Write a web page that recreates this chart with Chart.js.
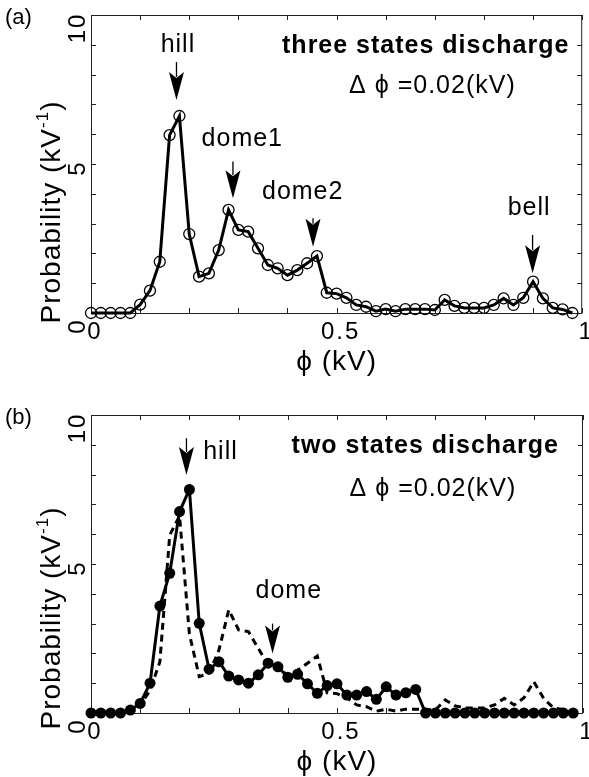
<!DOCTYPE html>
<html>
<head>
<meta charset="utf-8">
<script src="https://cdn.jsdelivr.net/npm/chart.js@4.4.0/dist/chart.umd.min.js"></script>
<style>
    html, body { margin: 0; padding: 0; background: #fff; }
    .panel { position: absolute; left: 0; width: 589px; }
    #wrapA { top: 0; height: 388px; }
    #wrapB { top: 388px; height: 389px; }
</style>
</head>
<body>
<div class="panel" id="wrapA"><canvas id="chartA" width="589" height="388"></canvas></div>
<div class="panel" id="wrapB"><canvas id="chartB" width="589" height="389"></canvas></div>
<script>
// phi (kV), bin width 0.02
var phi = [0.00, 0.02, 0.04, 0.06, 0.08, 0.10, 0.12, 0.14, 0.16, 0.18,
           0.20, 0.22, 0.24, 0.26, 0.28, 0.30, 0.32, 0.34, 0.36, 0.38,
           0.40, 0.42, 0.44, 0.46, 0.48, 0.50, 0.52, 0.54, 0.56, 0.58,
           0.60, 0.62, 0.64, 0.66, 0.68, 0.70, 0.72, 0.74, 0.76, 0.78,
           0.80, 0.82, 0.84, 0.86, 0.88, 0.90, 0.92, 0.94, 0.96, 0.98];

// (a) three states discharge, probability (kV^-1)
var threeStates = [0, 0, 0, 0, 0, 0.28, 0.75, 1.72, 5.97, 6.61,
                   2.65, 1.22, 1.33, 2.11, 3.46, 2.79, 2.73, 2.17, 1.61, 1.50,
                   1.27, 1.44, 1.67, 1.91, 0.68, 0.65, 0.51, 0.27, 0.21, 0.06,
                   0.13, 0.06, 0.13, 0.13, 0.13, 0.10, 0.44, 0.24, 0.17, 0.17,
                   0.17, 0.27, 0.49, 0.27, 0.51, 1.05, 0.49, 0.17, 0.12, 0.00];

// (b) two states discharge
var twoStates = [0, 0, 0, 0, 0.10, 0.32, 1.00, 3.59, 4.69, 6.76,
                 7.50, 3.01, 1.47, 1.72, 1.24, 1.11, 1.00, 1.28, 1.67, 1.55,
                 1.20, 1.30, 0.98, 0.66, 0.92, 0.98, 0.60, 0.60, 0.72, 0.46,
                 0.88, 0.60, 0.68, 0.79, 0, 0, 0, 0, 0, 0,
                 0, 0, 0, 0, 0, 0, 0, 0, 0, 0];

// axis ticks
var xMinorTicks = [0, 0.1, 0.2, 0.3, 0.4, 0.5, 0.6, 0.7, 0.8, 0.9, 1];
var xTickValues = [0, 0.5, 1];
var xTickLabels = ['0', '0.5', '1'];
var yMinorTicks = [0, 1, 2, 3, 4, 5, 6, 7, 8, 9, 10];
var yTickValues = [0, 5, 10];
var yTickLabels = ['0', '5', '10'];

var FONT = '"Liberation Sans", Arial, Helvetica, sans-serif';

function toPoints(xs, ys) {
    return xs.map(function(x, i) { return { x: x, y: ys[i] }; });
}

function drawArrow(ctx, x, yTop, yTip) {
    var headLen = 28, headW = 15;
    ctx.save();
    ctx.strokeStyle = '#000';
    ctx.fillStyle = '#000';
    ctx.lineWidth = 1.3;
    ctx.beginPath();
    ctx.moveTo(x, yTop);
    ctx.lineTo(x, yTip - headLen + 5);
    ctx.stroke();
    ctx.beginPath();
    ctx.moveTo(x, yTip);
    ctx.lineTo(x - headW / 2, yTip - headLen);
    ctx.lineTo(x, yTip - headLen + 6);
    ctx.lineTo(x + headW / 2, yTip - headLen);
    ctx.closePath();
    ctx.fill();
    ctx.restore();
}

// frame, ticks, axis text and annotations
var decorPlugin = {
    id: 'decor',
    beforeDatasetsDraw: function(chart) {
        var ctx = chart.ctx, a = chart.chartArea;
        var xs = chart.scales.x, ys = chart.scales.y;
        ctx.save();
        ctx.strokeStyle = '#222';
        ctx.lineWidth = 1;
        ctx.strokeRect(a.left + 0.5, a.top + 0.5, a.right - a.left - 1, a.bottom - a.top);
        ctx.beginPath();
        xMinorTicks.forEach(function(v) {
            var px = Math.round(xs.getPixelForValue(v)) + 0.5;
            ctx.moveTo(px, a.bottom); ctx.lineTo(px, a.bottom - 5);
            ctx.moveTo(px, a.top); ctx.lineTo(px, a.top + 5);
        });
        yMinorTicks.forEach(function(v) {
            var py = Math.round(ys.getPixelForValue(v)) + 0.5;
            ctx.moveTo(a.left, py); ctx.lineTo(a.left + 5, py);
            ctx.moveTo(a.right, py); ctx.lineTo(a.right - 5, py);
        });
        ctx.stroke();
        ctx.restore();
    },
    afterDraw: function(chart) {
        var ctx = chart.ctx, a = chart.chartArea;
        var xs = chart.scales.x, ys = chart.scales.y;
        var opt = chart.options.plugins.decor;
        ctx.save();
        ctx.fillStyle = '#000';

        // x tick labels
        ctx.font = '24px ' + FONT;
        ctx.letterSpacing = '2px';
        ctx.textAlign = 'center';
        ctx.textBaseline = 'top';
        xTickValues.forEach(function(v, i) {
            ctx.fillText(xTickLabels[i], xs.getPixelForValue(v) + 4, a.bottom + 7);
        });

        // y tick labels, rotated
        var yOff = [13, 4, 13];
        yTickValues.forEach(function(v, i) {
            ctx.save();
            ctx.translate(a.left - 1, ys.getPixelForValue(v) + yOff[i]);
            ctx.rotate(-Math.PI / 2);
            ctx.textAlign = 'center';
            ctx.textBaseline = 'bottom';
            ctx.fillText(yTickLabels[i], 0, 0);
            ctx.restore();
        });

        // x axis title
        ctx.font = '28px ' + FONT;
        ctx.letterSpacing = '1px';
        ctx.textAlign = 'center';
        ctx.textBaseline = 'alphabetic';
        ctx.fillText('\u03d5 (kV)', xs.getPixelForValue(0.5), a.bottom + 57);

        // y axis title with superscript
        ctx.save();
        ctx.translate(60, (a.top + a.bottom) / 2 + opt.labelShift);
        ctx.rotate(-Math.PI / 2);
        ctx.textAlign = 'left';
        ctx.textBaseline = 'alphabetic';
        var big = '28px ' + FONT, small = '17px ' + FONT;
        ctx.font = big;
        var p1 = 'Probability (kV', p3 = ')';
        var w1 = ctx.measureText(p1).width, w3 = ctx.measureText(p3).width;
        ctx.font = small;
        var w2 = ctx.measureText('-1').width;
        var x0 = -(w1 + w2 + w3) / 2;
        ctx.font = big;
        ctx.fillText(p1, x0, 0);
        ctx.font = small;
        ctx.fillText('-1', x0 + w1, -12);
        ctx.font = big;
        ctx.fillText(p3, x0 + w1 + w2, 0);
        ctx.restore();

        // panel letter
        ctx.font = '22px ' + FONT;
        ctx.letterSpacing = '0px';
        ctx.textAlign = 'left';
        ctx.textBaseline = 'middle';
        ctx.fillText(opt.letter, 5, a.top + 3);

        // annotations
        ctx.letterSpacing = '1px';
        opt.texts.forEach(function(t) {
            ctx.font = (t.bold ? 'bold ' : '') + t.size + 'px ' + FONT;
            ctx.textAlign = t.align || 'center';
            ctx.textBaseline = 'middle';
            ctx.fillText(t.text, xs.getPixelForValue(t.x), ys.getPixelForValue(t.y));
        });
        opt.arrows.forEach(function(ar) {
            drawArrow(ctx, xs.getPixelForValue(ar.x), ys.getPixelForValue(ar.top), ys.getPixelForValue(ar.tip));
        });
        ctx.restore();
    }
};

function makeOptions(padBottom, padTop, decor) {
    return {
        responsive: false,
        animation: false,
        devicePixelRatio: 1,
        layout: { padding: { left: 91, right: 6, top: padTop, bottom: padBottom } },
        scales: {
            x: { type: 'linear', min: 0, max: 1, display: false },
            y: { type: 'linear', min: 0, max: 10, display: false }
        },
        plugins: {
            legend: { display: false },
            tooltip: { enabled: false },
            decor: decor
        }
    };
}

new Chart(document.getElementById('chartA'), {
    type: 'line',
    data: {
        datasets: [{
            label: 'three states',
            data: toPoints(phi, threeStates),
            borderColor: '#000',
            borderWidth: 3,
            pointRadius: 5.5,
            pointBorderWidth: 1.3,
            pointBorderColor: '#000',
            pointBackgroundColor: 'rgba(0,0,0,0)',
            tension: 0,
            clip: false
        }]
    },
    options: makeOptions(75, 15, {
        letter: '(a)',
        labelShift: 48,
        texts: [
            { text: 'hill', x: 0.177, y: 9.0, size: 25 },
            { text: 'dome1', x: 0.308, y: 5.84, size: 25 },
            { text: 'dome2', x: 0.431, y: 4.07, size: 25 },
            { text: 'bell', x: 0.892, y: 3.52, size: 25 },
            { text: 'three states discharge', x: 0.974, y: 8.96, size: 25, bold: true, align: 'right' },
            { text: '\u0394 \u03d5 =0.02(kV)', x: 0.695, y: 7.6, size: 25 }
        ],
        arrows: [
            { x: 0.174, top: 8.42, tip: 7.15 },
            { x: 0.289, top: 5.08, tip: 3.85 },
            { x: 0.452, top: 3.18, tip: 2.22 },
            { x: 0.899, top: 2.62, tip: 1.33 }
        ]
    }),
    plugins: [decorPlugin]
});

new Chart(document.getElementById('chartB'), {
    type: 'line',
    data: {
        datasets: [{
            label: 'two states',
            data: toPoints(phi, twoStates),
            borderColor: '#000',
            borderWidth: 3,
            pointRadius: 5.5,
            pointBorderWidth: 0,
            pointBackgroundColor: '#000',
            tension: 0,
            clip: false
        }, {
            label: 'three states',
            data: toPoints(phi, threeStates),
            borderColor: '#000',
            borderWidth: 3,
            borderDash: [7, 5],
            pointRadius: 0,
            tension: 0,
            clip: false
        }]
    },
    options: makeOptions(64, 27, {
        letter: '(b)',
        labelShift: 54,
        texts: [
            { text: 'hill', x: 0.228, y: 8.76, size: 25, align: 'left' },
            { text: 'dome', x: 0.402, y: 4.09, size: 25 },
            { text: 'two states discharge', x: 0.951, y: 8.96, size: 25, bold: true, align: 'right' },
            { text: '\u0394 \u03d5 =0.02(kV)', x: 0.695, y: 7.52, size: 25 }
        ],
        arrows: [
            { x: 0.194, top: 9.22, tip: 7.99 },
            { x: 0.369, top: 3.0, tip: 2.0 }
        ]
    }),
    plugins: [decorPlugin]
});
</script>
</body>
</html>
